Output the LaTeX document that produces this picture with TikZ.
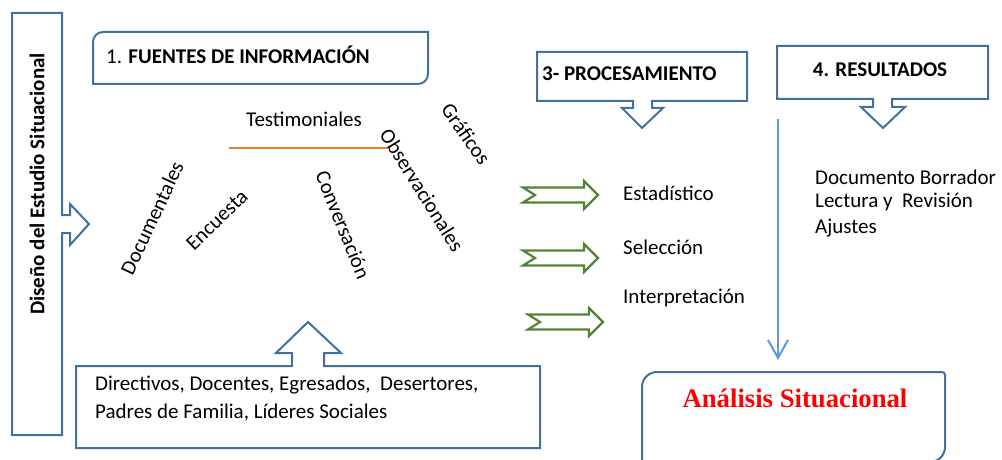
\documentclass[tikz,border=0pt]{standalone}
\usepackage{fontspec}
\setmainfont{Carlito}
\newfontfamily\analisisfont{Liberation Serif}
\usetikzlibrary{arrows.meta}

\definecolor{boxblue}{RGB}{65,113,156}
\definecolor{arrowgreen}{RGB}{84,130,53}
\definecolor{lineblue}{RGB}{91,155,213}
\definecolor{lineorange}{RGB}{237,125,49}

\begin{document}
\begin{tikzpicture}[x=1pt, y=1pt,
  every node/.style={inner sep=0pt, font=\fontsize{21}{28}\selectfont},
  callout/.style={draw=boxblue, line width=2pt, line join=miter},
  greenarrow/.style={draw=arrowgreen, line width=2.2pt, fill=white, line join=miter},
  word/.style={anchor=center}]

\useasboundingbox (0,0) rectangle (1002,459);

% columna izquierda
\draw [callout] (12,446) -- (62,446) -- (62,244) -- (70,244) -- (70,255) -- (89,235) -- (70,214) -- (70,226) -- (62,226) -- (62,24) -- (12,24) -- cycle;
\node[rotate=90, font=\fontsize{21}{25}\selectfont\bfseries] (diseno) at (37,275) {Diseño del Estudio Situacional};

% fuentes
\draw [callout] (93,375) -- (93,417) arc[start angle=180, end angle=90, radius=10] -- (428,427) -- (428,385) arc[start angle=0, end angle=-90, radius=10] -- cycle;
\node[anchor=west] (fuentes) at (106,404) {1. \textbf{FUENTES DE INFORMACIÓN}};

\node[word] (testimoniales) at (304,340) {Testimoniales};
\coordinate (lineaA) at (229,311);
\coordinate (lineaB) at (387,311);
\draw [lineorange, line width=2pt] (lineaA) -- (lineaB);
\node[word, rotate=65] (documentales) at (152,241) {Documentales};
\node[word, rotate=44] (encuesta) at (217,239) {Encuesta};
\node[word, rotate=-68] (conversacion) at (343,234) {Conversación};
\node[word, rotate=-58] (observacionales) at (422,269) {Observacionales};
\node[word, rotate=-55] (graficos) at (466,325) {Gráficos};

% actores
\draw [callout] (76,11) -- (76,93) -- (292,93) -- (292,106) -- (276,106) -- (308,137) -- (341,106) -- (324,106) -- (324,93) -- (540,93) -- (540,11) -- cycle;
\node[anchor=west, align=left] (actores) at (95,60) {Directivos, Docentes, Egresados,~ Desertores,\\Padres de Familia, Líderes Sociales};

% procesamiento
\draw [callout] (537,407) -- (747,407) -- (747,358) -- (652,358) -- (652,351) -- (663,351) -- (642,331) -- (622,351) -- (633,351) -- (633,358) -- (537,358) -- cycle;
\node[anchor=west, font=\fontsize{21}{25}\selectfont\bfseries] (procesamiento) at (542,385) {3- PROCESAMIENTO};

\foreach \x/\y in {523/264, 523/201, 528/137}
  \draw [greenarrow] (\x,\y) ++(0,7.5) -- ++(12,-7.5) -- ++(-12,-7.5) -- ++(61,0) -- ++(0,-6.5) -- ++(14,14) -- ++(-14,14) -- ++(0,-6.5) -- cycle;

\node[anchor=west] (estadistico) at (623,266) {Estadístico};
\node[anchor=west] (seleccion) at (623,212) {Selección};
\node[anchor=west] (interpretacion) at (623,161) {Interpretación};

% resultados
\draw [callout] (777,413) -- (988,413) -- (988,360) -- (892,360) -- (892,352) -- (905,352) -- (883,331) -- (861,352) -- (873,352) -- (873,360) -- (777,360) -- cycle;
\node[font=\fontsize{21}{25}\selectfont\bfseries] (resultados) at (880,389) {4. RESULTADOS};

\node[anchor=west] (borrador) at (815,282) {Documento Borrador};
\node[anchor=west] (lectura) at (815,257) {Lectura y~ Revisión};
\node[anchor=west] (ajustes) at (815,231) {Ajustes};

% analisis
\draw [callout] (642,-3) -- (642,72) arc[start angle=180, end angle=90, radius=15] -- (942,87) arc[start angle=90, end angle=0, radius=3] -- (945,12) arc[start angle=0, end angle=-90, radius=15] -- cycle;
\node[font=\fontsize{26.7}{30}\analisisfont\bfseries, text=red] (analisis) at (795,61) {Análisis Situacional};

\coordinate (flechaTop) at (778,340);
\coordinate (flechaEnd) at (778,99);
\draw [lineblue, line width=2pt, -{Straight Barb[length=18pt, width=20pt, line width=2pt]}] (flechaTop) -- (flechaEnd);
\end{tikzpicture}
\end{document}
